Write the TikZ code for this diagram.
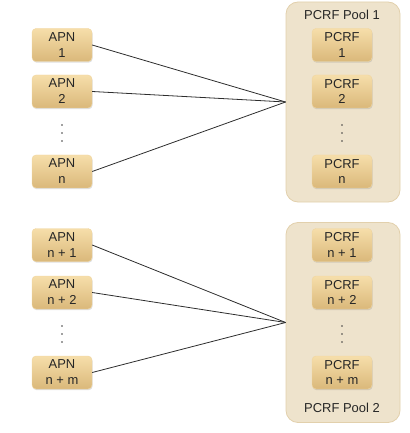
\documentclass[tikz,border=0pt]{standalone}
\usepackage{fontspec}
\setmainfont{Liberation Sans}
\usetikzlibrary{shadows}
\definecolor{boxtop}{RGB}{246, 222, 170}
\definecolor{boxbottom}{RGB}{218, 184, 122}
\definecolor{poolfill}{RGB}{238, 227, 204}
\definecolor{pooldraw}{RGB}{226, 208, 172}
\definecolor{linkcolor}{RGB}{45, 45, 45}
\tikzstyle{element} = [rectangle, rounded corners=4bp,
                       minimum width=60bp, minimum height=33bp,
                       align=center, draw=boxtop!80!boxbottom, line width=0.4bp,
                       top color=boxtop, bottom color=boxbottom,
                       drop shadow={shadow xshift=0.6bp, shadow yshift=-1.2bp, opacity=0.25},
                       font=\fontsize{13}{16}\selectfont, text=black!85]
\tikzstyle{pool} = [rectangle, rounded corners=12bp,
                    minimum width=114bp, minimum height=200bp,
                    draw=pooldraw, fill=poolfill, line width=0.8bp]
\tikzstyle{label} = [font=\fontsize{13}{16}\selectfont, text=black!85]
\tikzstyle{dot} = [fill=black!75]
\tikzstyle{link} = [linkcolor, line width=0.8bp]

\begin{document}
\begin{tikzpicture}[x=1bp, y=-1bp]
        \useasboundingbox (0,0) rectangle (409,433);

        % pools
        \node (Pool1) [pool] at (343,102) {};
        \node (Pool1Label) [label] at (342,15) {PCRF Pool 1};
        \node (Pool2) [pool] at (343,322.5) {};
        \node (Pool2Label) [label] at (342,408) {PCRF Pool 2};

        % first group
        \node (APN1) [element] at (62,45) {APN\\1};
        \node (APN2) [element] at (62,91.5) {APN\\2};
        \node (APNn) [element] at (62,171.5) {APN\\n};

        \node (PCRF1) [element] at (342,45) {PCRF\\1};
        \node (PCRF2) [element] at (342,91.5) {PCRF\\2};
        \node (PCRFn) [element] at (342,171.5) {PCRF\\n};

        % second group
        \node (APNn1) [element] at (62,245) {APN\\n + 1};
        \node (APNn2) [element] at (62,292.5) {APN\\n + 2};
        \node (APNnm) [element] at (62,372.5) {APN\\n + m};

        \node (PCRFn1) [element] at (342,245) {PCRF\\n + 1};
        \node (PCRFn2) [element] at (342,292.5) {PCRF\\n + 2};
        \node (PCRFnm) [element] at (342,372.5) {PCRF\\n + m};

        % vertical dots
        \foreach \x/\y in {62/125, 342/125, 62/326, 342/326}
            \foreach \k in {0,1,2}
                \fill [dot] (\x,\y+8*\k) circle (0.9bp);

        \draw [link] (APN1.east) -- (Pool1.west);
        \draw [link] (APN2.east) -- (Pool1.west);
        \draw [link] (APNn.east) -- (Pool1.west);

        \draw [link] (APNn1.east) -- (Pool2.west);
        \draw [link] (APNn2.east) -- (Pool2.west);
        \draw [link] (APNnm.east) -- (Pool2.west);

    \end{tikzpicture}
\end{document}
